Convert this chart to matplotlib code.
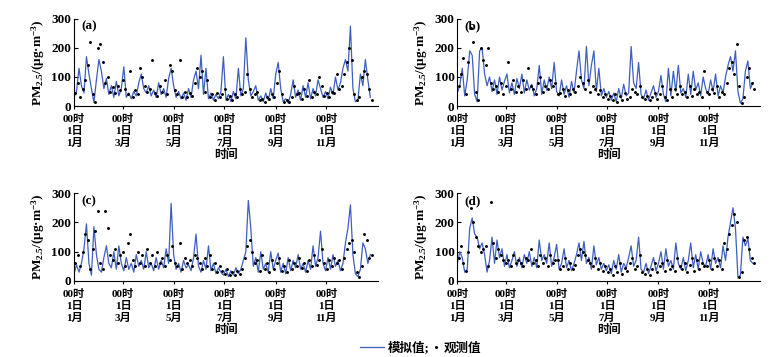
import numpy as np
import matplotlib
matplotlib.use('Agg')
import matplotlib.pyplot as plt
from matplotlib.lines import Line2D
from matplotlib.legend_handler import HandlerLine2D

plt.rcParams['font.family'] = ['Liberation Serif', 'Noto Sans CJK SC']
plt.rcParams['font.weight'] = 'bold'
plt.rcParams['axes.labelweight'] = 'bold'
plt.rcParams['mathtext.fontset'] = 'custom'
plt.rcParams['mathtext.rm'] = 'Liberation Serif:bold'
plt.rcParams['mathtext.it'] = 'Liberation Serif:bold'
plt.rcParams['mathtext.bf'] = 'Liberation Serif:bold'

# days since 1 Jan, model every 3 days, obs offset by 1.5 days
days_mod = np.arange(0, 360, 3)
days_obs = days_mod + 1.5

tick_days = [0, 59, 120, 181, 243, 304]
tick_labels = ['00时\n1日\n1月', '00时\n1日\n3月', '00时\n1日\n5月',
               '00时\n1日\n7月', '00时\n1日\n9月', '00时\n1日\n11月']

a_mod = [30, 50, 130, 70, 45, 170, 110, 60, 12, 90,
         160, 120, 60, 95, 40, 70, 30, 85, 35, 60,
         135, 30, 45, 25, 50, 35, 80, 110, 60, 45,
         70, 35, 55, 30, 80, 40, 60, 30, 95, 130,
         70, 30, 50, 25, 45, 20, 60, 30, 90, 120,
         60, 175, 40, 130, 25, 45, 20, 40, 25, 50,
         170, 20, 40, 15, 50, 25, 130, 35, 60, 235,
         90, 35, 50, 70, 20, 35, 15, 45, 20, 60,
         25, 110, 150, 60, 15, 25, 10, 40, 90, 30,
         55, 20, 70, 30, 80, 25, 60, 35, 90, 60,
         30, 50, 25, 65, 40, 100, 55, 80, 130, 160,
         120, 275, 60, 15, 20, 110, 70, 160, 90, 30]
a_obs = [45, 80, 30, 60, 90, 140, 220, 40, 15, 200,
         215, 150, 80, 100, 50, 65, 45, 70, 55, 90,
         60, 40, 120, 30, 55, 40, 130, 100, 70, 50,
         60, 160, 45, 35, 70, 50, 90, 40, 140, 120,
         55, 40, 160, 30, 50, 30, 45, 35, 80, 130,
         100, 120, 50, 90, 30, 40, 20, 45, 30, 40,
         60, 25, 35, 20, 40, 30, 60, 40, 50, 110,
         60, 30, 40, 50, 20, 25, 15, 30, 25, 40,
         30, 80, 120, 40, 15, 20, 15, 30, 70, 40,
         45, 25, 60, 35, 90, 30, 50, 40, 100, 70,
         35, 45, 30, 50, 45, 110, 60, 70, 110, 150,
         200, 160, 40, 20, 30, 100, 120, 110, 60, 20]

b_mod = [45, 70, 130, 35, 90, 190, 175, 40, 15, 190,
         200, 110, 70, 100, 50, 90, 40, 100, 55, 85,
         110, 45, 80, 40, 95, 60, 110, 45, 90, 55,
         75, 35, 60, 140, 40, 90, 55, 100, 60, 150,
         50, 35, 90, 40, 70, 30, 85, 45, 120, 190,
         90, 60, 205, 70, 140, 190, 50, 130, 35, 60,
         30, 50, 20, 45, 15, 60, 25, 75, 35, 45,
         205, 80, 60, 150, 40, 25, 55, 20, 45, 70,
         30, 50, 105, 40, 15, 130, 35, 120, 50, 140,
         45, 60, 30, 110, 40, 120, 55, 80, 35, 100,
         60, 40, 90, 50, 110, 35, 70, 45, 100, 140,
         170, 120, 190, 50, 10, 25, 120, 155, 60, 80]
b_obs = [70, 110, 165, 40, 150, 270, 220, 50, 20, 200,
         160, 140, 200, 80, 60, 70, 50, 80, 40, 70,
         150, 60, 90, 50, 70, 50, 90, 60, 130, 70,
         60, 40, 80, 100, 50, 70, 60, 90, 70, 80,
         40, 45, 60, 35, 55, 40, 60, 50, 70, 100,
         80, 60, 90, 50, 70, 60, 40, 55, 30, 40,
         25, 35, 20, 40, 15, 35, 20, 45, 25, 30,
         60, 50, 40, 70, 30, 25, 35, 20, 30, 45,
         25, 40, 70, 30, 20, 60, 30, 60, 40, 70,
         40, 50, 30, 70, 35, 60, 40, 50, 30, 120,
         50, 40, 60, 45, 70, 30, 50, 40, 80, 130,
         150, 110, 215, 70, 10, 30, 100, 130, 80, 60]

c_mod = [25, 55, 30, 60, 110, 195, 60, 20, 185, 90,
         40, 30, 80, 120, 60, 45, 100, 40, 120, 60,
         35, 80, 40, 60, 30, 90, 50, 70, 40, 100,
         45, 60, 35, 80, 40, 70, 45, 110, 60, 265,
         90, 40, 60, 30, 70, 45, 55, 35, 80, 160,
         50, 30, 70, 40, 120, 35, 60, 25, 45, 30,
         20, 40, 15, 35, 20, 45, 25, 40, 70, 100,
         275, 180, 50, 80, 30, 100, 40, 60, 30, 100,
         40, 70, 95, 30, 60, 25, 80, 35, 70, 45,
         90, 40, 60, 30, 70, 40, 120, 50, 80, 170,
         60, 35, 80, 40, 90, 50, 70, 35, 60, 130,
         180, 260, 90, 25, 15, 40, 130, 110, 60, 90]
c_obs = [60, 90, 50, 100, 160, 140, 40, 110, 170, 240,
         60, 40, 240, 180, 90, 70, 110, 60, 90, 100,
         50, 130, 160, 70, 50, 100, 60, 90, 50, 110,
         60, 90, 50, 100, 60, 80, 50, 90, 70, 120,
         60, 50, 130, 40, 80, 60, 70, 50, 90, 80,
         60, 40, 80, 50, 90, 40, 60, 30, 50, 35,
         25, 40, 20, 30, 20, 35, 25, 40, 80, 120,
         140, 100, 60, 70, 35, 90, 40, 60, 30, 70,
         40, 60, 80, 35, 50, 30, 70, 40, 60, 50,
         80, 45, 60, 35, 70, 50, 90, 55, 70, 110,
         60, 40, 70, 50, 80, 60, 70, 40, 80, 110,
         130, 140, 100, 30, 15, 50, 160, 140, 80, 90]

d_mod = [60, 100, 80, 30, 40, 180, 215, 160, 150, 110,
         130, 90, 30, 70, 150, 60, 140, 80, 110, 50,
         90, 45, 70, 100, 50, 80, 45, 90, 60, 100,
         50, 80, 45, 140, 70, 90, 60, 130, 50, 80,
         125, 40, 60, 110, 45, 70, 35, 60, 90, 130,
         70, 135, 60, 80, 40, 120, 55, 80, 40, 60,
         35, 55, 25, 70, 40, 90, 30, 60, 45, 80,
         120, 50, 70, 150, 40, 30, 60, 25, 50, 80,
         35, 60, 100, 40, 110, 50, 70, 40, 130, 60,
         40, 80, 35, 70, 130, 45, 90, 40, 100, 60,
         50, 90, 40, 110, 60, 80, 45, 120, 70, 150,
         200, 250, 180, 10, 20, 150, 120, 145, 70, 60]
d_obs = [80, 120, 60, 35, 100, 250, 200, 150, 120, 100,
         110, 120, 50, 270, 130, 80, 110, 90, 70, 60,
         70, 50, 90, 60, 70, 60, 50, 80, 70, 110,
         60, 70, 50, 90, 60, 80, 50, 90, 60, 70,
         70, 40, 50, 80, 40, 60, 40, 55, 90, 110,
         100, 90, 70, 60, 50, 80, 40, 60, 35, 50,
         30, 40, 20, 50, 30, 60, 25, 45, 35, 60,
         80, 40, 50, 90, 30, 25, 40, 20, 40, 60,
         30, 50, 60, 35, 70, 40, 50, 35, 80, 50,
         40, 60, 30, 55, 80, 35, 70, 40, 60, 50,
         50, 70, 40, 80, 50, 70, 40, 130, 110, 160,
         190, 230, 200, 15, 30, 140, 150, 110, 80, 60]

panels = [('(a)', a_mod, a_obs, [0.095, 0.703, 0.390, 0.244]),
          ('(b)', b_mod, b_obs, [0.587, 0.703, 0.389, 0.244]),
          ('(c)', c_mod, c_obs, [0.095, 0.213, 0.390, 0.246]),
          ('(d)', d_mod, d_obs, [0.587, 0.213, 0.389, 0.246])]

fig = plt.figure(figsize=(7.79, 3.57), dpi=100)

for tag, mod, obs, pos in panels:
    ax = fig.add_axes(pos)
    ax.plot(days_mod, mod, color='#3f5fbf', lw=0.9)
    ax.plot(days_obs, obs, '.', color='black', ms=2.2)
    ax.set_xlim(0, 366)
    ax.set_ylim(0, 300)
    ax.set_yticks([0, 100, 200, 300])
    ax.set_yticklabels(['0', '100', '200', '300'], fontsize=9.5,
                       fontweight='bold')
    ax.tick_params(axis='y', direction='in', length=3, pad=2)
    ax.set_xticks(tick_days)
    ax.set_xticklabels(tick_labels, fontsize=8, fontweight='bold',
                       linespacing=1.2)
    for lbl in ax.get_xticklabels():
        lbl.set_multialignment('center')
    ax.tick_params(axis='x', direction='out', length=2, pad=4)
    ax.spines['top'].set_visible(False)
    ax.spines['right'].set_visible(False)
    ax.set_ylabel('PM$_{2.5}$/(μg·m$^{-3}$)', fontsize=9.5,
                  fontweight='bold', labelpad=3)
    ax.set_xlabel('时间', fontsize=8.5, fontweight='bold', labelpad=1)
    ax.text(0.025, 0.98, tag, transform=ax.transAxes, fontsize=9.5,
            fontweight='bold', va='top', ha='left')

h_mod = Line2D([], [], color='#3f5fbf', lw=0.9)
h_obs = Line2D([], [], ls='', marker='.', color='black', ms=2.4)
fig.legend([h_mod, h_obs], ['模拟值;', '观测值'], loc='center', ncol=2,
           bbox_to_anchor=(0.54, 0.025), frameon=False,
           prop={'size': 9, 'weight': 'bold'},
           handler_map={h_obs: HandlerLine2D(xpad=1.4)},
           handlelength=1.85, handletextpad=0.35, columnspacing=-1.1)

fig.savefig('out.png', dpi=100)
